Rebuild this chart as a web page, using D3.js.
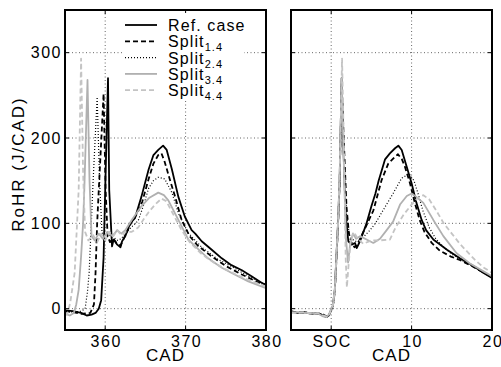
<!DOCTYPE html>
<html>
<head>
<meta charset="utf-8">
<script src="https://cdn.jsdelivr.net/npm/d3@7/dist/d3.min.js"></script>
<style>
  body { margin: 0; background: #fff; }
  svg { display: block; font-family: "Liberation Sans", Arial, sans-serif; }
</style>
</head>
<body>
<svg id="chart" width="501" height="367"></svg>
<script>
// ---- data: [CAD, RoHR] pairs ----
const leftRef = [[355,-2],[356,-3],[357,-5],[357.7,-8],[358.3,-7],[358.8,-5],[359.2,0],[359.5,10],[359.8,60],[360.0,139],[360.35,270],[360.5,139],[360.85,73],[361.05,81],[361.5,75],[361.9,72],[362.1,79],[362.5,85],[363.1,100],[363.7,106],[364.5,131],[365.4,163],[366.0,180],[366.6,186],[367.2,191],[367.65,186],[368.3,163],[369.1,131],[369.9,108],[370.75,92],[371.2,88],[372,79],[373.25,69],[374.5,59],[375.7,51],[377,45],[378.2,38],[379.5,30],[380,28]];
const leftSplit1 = [[355,-3],[356,-4],[357,-6],[358.15,-5],[358.6,5],[358.8,42],[359.0,100],[359.2,139],[359.8,252],[360.05,140],[360.3,85],[360.6,78],[361.0,82],[361.5,76],[361.9,74],[362.2,80],[362.6,88],[363.2,100],[364.0,112],[364.6,125],[365.4,152],[366.0,170],[366.6,180],[367.0,182],[367.4,172],[368.05,151],[368.7,131],[369.5,104],[370.5,85],[371.5,74],[373,63],[375,50],[377,40],[379,31],[380,28]];
const leftSplit2 = [[355,-3],[356,-4],[357,-3],[357.5,0],[357.8,20],[358.0,42],[358.5,150],[359.0,248],[359.3,150],[359.6,90],[360.0,82],[360.5,86],[361,84],[361.5,80],[362,82],[362.5,88],[363.2,95],[364.1,103],[364.8,122],[365.4,141],[366.0,150],[366.6,154],[367.4,152],[368.3,136],[369.1,112],[370.3,89],[372,72],[374,58],[376,48],[378,37],[380,28]];
const leftSplit3 = [[355,-6],[355.6,-8],[356.1,-5],[356.4,5],[356.7,22],[357.0,61],[357.25,100],[357.4,139],[357.8,268],[358.05,150],[358.3,85],[358.7,80],[359.2,88],[359.7,82],[360.3,90],[360.9,85],[361.5,92],[362,88],[362.5,92],[363.3,104],[364.5,120],[365.5,130],[366.6,136],[367.3,133],[367.85,127],[369.1,104],[370.35,81],[371.2,73],[372.8,59],[374.5,48],[376.1,40],[377.8,32],[380,24]];
const leftSplit4 = [[355,-8],[355.3,-6],[355.65,7],[356.2,42],[356.5,100],[356.7,139],[357.0,293],[357.25,160],[357.5,90],[357.9,80],[358.5,86],[359,78],[359.5,88],[360,80],[360.5,90],[361,85],[361.5,92],[362,86],[362.5,90],[363.3,90],[364.1,95],[364.8,105],[365.4,113],[366.2,122],[367.0,129],[367.6,126],[368.5,110],[369.5,92],[370.5,78],[372,64],[373.5,54],[375,46],[376.5,39],[378,33],[380,26]];

// right panel: CAD relative to start of combustion (SOC)
const rightRef = [[-5,-3],[-4.2,-5],[-3.3,-4],[-2.5,-6],[-1.6,-5],[-1.0,-8],[-0.6,-10],[-0.3,-8],[0.2,3],[0.45,22],[0.65,61],[0.85,100],[1.05,150],[1.3,270],[1.55,180],[1.8,110],[2.13,79],[2.55,75],[2.96,77],[3.17,71],[3.58,79],[4.4,100],[5.0,120],[5.5,135],[5.9,150],[6.7,175],[7.3,182],[7.94,188],[8.35,191],[8.77,186],[9.4,166],[10.0,147],[10.6,124],[11.25,104],[11.8,92],[12.7,81],[14.4,69],[16,59],[17.7,50],[18.9,42],[20,36]];
const rightSplit1 = [[-5,-4],[-4.2,-4],[-3.3,-5],[-2.5,-5],[-1.6,-6],[-1.0,-7],[-0.6,-9],[-0.3,-8],[0.2,2],[0.45,20],[0.65,58],[0.85,98],[1.05,148],[1.3,262],[1.6,190],[1.9,120],[2.2,88],[2.5,78],[2.9,72],[3.2,74],[3.6,82],[4.4,98],[5.24,115],[6.28,151],[7.1,170],[7.94,178],[8.3,181],[8.8,175],[9.18,166],[9.8,147],[10.4,124],[11.0,104],[11.6,90],[12.5,77],[13.5,68],[14.9,61],[16,57],[17.5,50],[19,42],[20,37]];
const rightSplit2 = [[-5,-4],[-4.2,-5],[-3.3,-4],[-2.5,-5],[-1.6,-5],[-1.0,-8],[-0.6,-9],[-0.3,-7],[0.2,3],[0.45,21],[0.65,60],[0.85,99],[1.05,145],[1.3,255],[1.6,170],[1.9,110],[2.3,85],[2.8,80],[3.3,78],[3.8,82],[4.83,92],[5.5,100],[6.5,116],[7.7,135],[8.77,153],[9.7,158],[10.3,150],[10.8,135],[11.4,115],[12.2,95],[13,82],[14,72],[15,64],[16,58],[17.5,50],[19,42],[20,37]];
const rightSplit3 = [[-5,-5],[-4.2,-4],[-3.3,-5],[-2.5,-5],[-1.6,-6],[-1.0,-9],[-0.6,-10],[-0.3,-7],[0.2,4],[0.45,23],[0.65,62],[0.85,101],[1.05,152],[1.3,270],[1.6,160],[1.85,80],[2.1,54],[2.35,75],[2.7,88],[3.1,82],[3.58,85],[4.4,81],[5.24,77],[6.07,82],[6.9,92],[7.7,102],[8.56,122],[9.4,132],[10.0,135],[10.6,131],[11.46,124],[12.7,104],[13.95,85],[15.6,65],[17.26,53],[18.9,44],[20,38]];
const rightSplit4 = [[-5,-4],[-4.2,-5],[-3.3,-4],[-2.5,-6],[-1.6,-5],[-1.0,-8],[-0.6,-9],[-0.3,-8],[0.2,3],[0.45,22],[0.65,60],[0.85,100],[1.05,160],[1.35,293],[1.6,180],[1.8,60],[1.95,25],[2.15,50],[2.4,78],[2.8,90],[3.3,82],[4,76],[5,80],[6,80],[7.3,81],[8,95],[9,110],[10,122],[10.8,130],[11.46,133],[12.2,128],[13,116],[14,100],[15,88],[16,76],[17,66],[18,56],[19,48],[20,42]];

const seriesNames = ["Ref. case", "Split", "Split", "Split", "Split"];
const seriesSubs = [null, "1.4", "2.4", "3.4", "4.4"];
const leftXTicks = [360, 370, 380];
const rightXTicks = [0, 10, 20];
const rightXLabels = ["SOC", "10", "20"];
const yTicks = [0, 100, 200, 300];

// ---- styling ----
const styles = [
  { color: "#000",    dash: null,    width: 1.8 },
  { color: "#000",    dash: "5,3",   width: 1.8 },
  { color: "#000",    dash: "1,2",   width: 1.2 },
  { color: "#b0b0b0", dash: null,    width: 1.8 },
  { color: "#c4c4c4", dash: "5,3",   width: 1.8 }
];

const svg = d3.select("#chart");
const plotTop = 10, plotBottom = 330;
const y = d3.scaleLinear().domain([-25, 350]).range([plotBottom, plotTop]);

function drawPanel(id, x0, x1, xDomain, xTicks, xFmt, showYLabels, data) {
  const x = d3.scaleLinear().domain(xDomain).range([x0, x1]);
  const g = svg.append("g");

  g.append("clipPath").attr("id", "clip-" + id)
    .append("rect").attr("x", x0).attr("y", plotTop).attr("width", x1 - x0).attr("height", plotBottom - plotTop);

  // grid
  const grid = g.append("g").attr("stroke", "#666").attr("stroke-width", 1).attr("stroke-dasharray", "1,2.5");
  grid.selectAll(".gx").data(xTicks.filter(t => x(t) < x1 - 2)).join("line")
    .attr("x1", d => x(d)).attr("x2", d => x(d)).attr("y1", plotTop).attr("y2", plotBottom);
  grid.selectAll(".gy").data(yTicks).join("line")
    .attr("x1", x0).attr("x2", x1).attr("y1", d => y(d)).attr("y2", d => y(d));

  // curves
  const line = d3.line().x(d => x(d[0])).y(d => y(d[1]));
  const curves = g.append("g").attr("clip-path", `url(#clip-${id})`);
  data.forEach((s, i) => {
    curves.append("path").datum(s)
      .attr("fill", "none")
      .attr("stroke", styles[i].color)
      .attr("stroke-width", styles[i].width)
      .attr("stroke-dasharray", styles[i].dash)
      .attr("stroke-linejoin", "round")
      .attr("d", line);
  });

  // inward ticks on all sides
  const tk = g.append("g").attr("stroke", "#000").attr("stroke-width", 1);
  xTicks.forEach(t => {
    tk.append("line").attr("x1", x(t)).attr("x2", x(t)).attr("y1", plotBottom).attr("y2", plotBottom - 4);
    tk.append("line").attr("x1", x(t)).attr("x2", x(t)).attr("y1", plotTop).attr("y2", plotTop + 4);
  });
  yTicks.forEach(t => {
    tk.append("line").attr("x1", x0).attr("x2", x0 + 4).attr("y1", y(t)).attr("y2", y(t));
    tk.append("line").attr("x1", x1).attr("x2", x1 - 4).attr("y1", y(t)).attr("y2", y(t));
  });

  // box
  g.append("rect").attr("x", x0).attr("y", plotTop).attr("width", x1 - x0).attr("height", plotBottom - plotTop)
    .attr("fill", "none").attr("stroke", "#000").attr("stroke-width", 2);

  // x tick labels
  g.selectAll(".xl").data(xTicks).join("text")
    .attr("x", d => x(d) + 1).attr("y", 347)
    .attr("text-anchor", "middle").attr("font-size", 16).attr("letter-spacing", 1.5)
    .text((d, i) => xFmt(d, i));

  if (showYLabels) {
    g.selectAll(".yl").data(yTicks).join("text")
      .attr("x", x0 - 3).attr("y", d => y(d) + 5.5)
      .attr("text-anchor", "end").attr("font-size", 16).attr("letter-spacing", 1.5)
      .text(d => d);
  }

  g.append("text").attr("x", (x0 + x1) / 2).attr("y", 361)
    .attr("text-anchor", "middle").attr("font-size", 17).attr("letter-spacing", 1)
    .text("CAD");
  return x;
}

drawPanel("l", 65, 266, [355, 380], leftXTicks, d => d, true,
  [leftRef, leftSplit1, leftSplit2, leftSplit3, leftSplit4]);
drawPanel("r", 291, 492, [-5, 20], rightXTicks, (d, i) => rightXLabels[i], false,
  [rightRef, rightSplit1, rightSplit2, rightSplit3, rightSplit4]);

// y axis label
svg.append("text").attr("transform", "translate(24,164) rotate(-90)")
  .attr("text-anchor", "middle").attr("font-size", 17).attr("letter-spacing", 2)
  .text("RoHR (J/CAD)");

// legend
const lg = svg.append("g");
lg.append("rect").attr("x", 122).attr("y", 13).attr("width", 122).attr("height", 86).attr("fill", "#fff");
seriesNames.forEach((name, i) => {
  const cy = 25 + i * 16.3;
  lg.append("line").attr("x1", 125).attr("x2", 157).attr("y1", cy).attr("y2", cy)
    .attr("stroke", styles[i].color).attr("stroke-width", styles[i].width)
    .attr("stroke-dasharray", styles[i].dash);
  const t = lg.append("text").attr("x", 168).attr("y", cy + 6).attr("font-size", 16).attr("letter-spacing", 1.1);
  t.append("tspan").text(name);
  if (seriesSubs[i]) {
    t.append("tspan").attr("font-size", 11).attr("dy", 4).text(seriesSubs[i]);
  }
});
</script>
</body>
</html>
